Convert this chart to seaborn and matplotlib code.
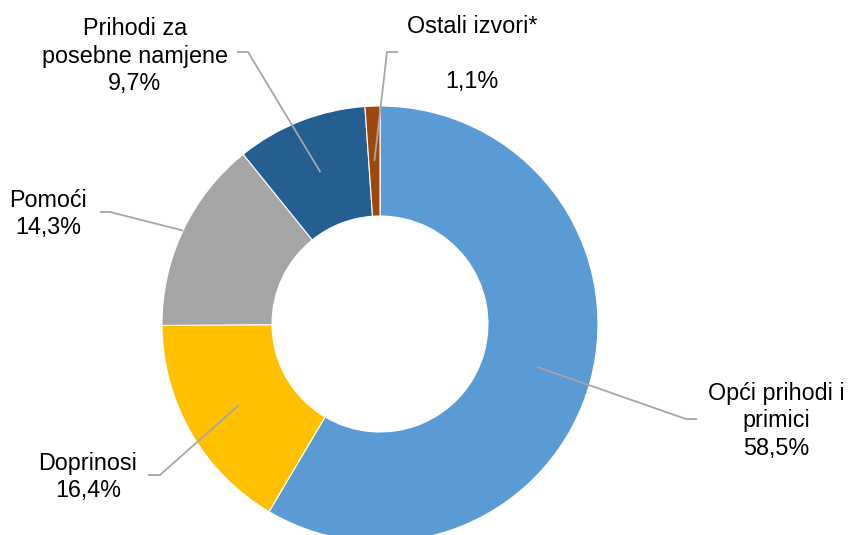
import numpy as np
import matplotlib
matplotlib.use("Agg")
import matplotlib.pyplot as plt
import seaborn as sns

# Data
categories = ["Opći prihodi i\nprimici", "Doprinosi", "Pomoći",
              "Prihodi za\nposebne namjene", "Ostali izvori*\n"]
shares = [58.5, 16.4, 14.3, 9.7, 1.1]
colors = ["#5B9BD5", "#FFC000", "#A5A5A5", "#255E91", "#9E480E"]

sns.set_theme(style="white")
plt.rcParams["font.family"] = ["Liberation Sans", "DejaVu Sans"]

W, H = 849, 535
fig = plt.figure(figsize=(W / 100, H / 100), dpi=100)
ax = fig.add_axes([0, 0, 1, 1])

cx, cy = 380, H - 324
r_out, r_in = 218, 108
ax.pie(shares, colors=sns.color_palette(colors), startangle=90, counterclock=False,
       radius=r_out, center=(cx, cy),
       wedgeprops=dict(width=r_out - r_in, edgecolor="white", linewidth=0.8))
ax.set_xlim(0, W)
ax.set_ylim(0, H)
ax.set_aspect("equal")
ax.axis("off")

# label layout in pixel coords (x, y from top): text centre, elbow start, elbow end, anchor radius
layout = [
    ((776, 421), (697, 419), (686, 419), 163),
    ((88, 477), (148, 475), (160, 475), 163),
    ((48, 214), (100, 212), (110, 212), 218),
    ((135, 56), (237, 52), (248, 52), 163),
    ((472, 54), (398, 52), (387, 52), 163),
]

cum = np.cumsum([0] + shares[:-1])
for name, val, start, (txt, p1, p2, ra) in zip(categories, shares, cum, layout):
    mid = np.deg2rad(90 - (start + val / 2) / 100 * 360)
    ax_, ay_ = cx + ra * np.cos(mid), cy + ra * np.sin(mid)
    ax.plot([p1[0], p2[0], ax_], [H - p1[1], H - p2[1], ay_],
            color="#A6A6A6", lw=1.3, solid_capstyle="butt")
    label = f"{name}\n{val:.1f}%".replace(".", ",")
    ax.text(txt[0], H - txt[1], label, ha="center", va="center",
            fontsize=16.8, color="#000000", linespacing=1.27)

plt.savefig("out.png", dpi=100)
